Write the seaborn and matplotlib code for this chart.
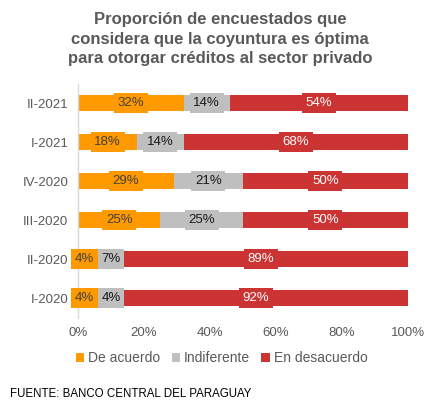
import numpy as np
import pandas as pd
import matplotlib
matplotlib.use("Agg")
import matplotlib.pyplot as plt
from matplotlib.patches import Patch
import seaborn as sns

# Data =================================================================================================================

periods = ["II-2021", "I-2021", "IV-2020", "III-2020", "II-2020", "I-2020"]
de_acuerdo = [32, 18, 29, 25, 4, 4]
indiferente = [14, 14, 21, 25, 7, 4]
en_desacuerdo = [54, 68, 50, 50, 89, 92]

series_names = ["De acuerdo", "Indiferente", "En desacuerdo"]
colors = ["#FF9900", "#BFBFBF", "#CC3333"]
label_colors = ["#404040", "#1a1a1a", "white"]

# Plot =================================================================================================================

sns.set_style("white")
plt.rcParams["font.family"] = ["Liberation Sans", "DejaVu Sans"]

df = pd.DataFrame({"periodo": periods, "De acuerdo": de_acuerdo,
                   "Indiferente": indiferente, "En desacuerdo": en_desacuerdo})
df["cum1"] = df["De acuerdo"]
df["cum2"] = df["De acuerdo"] + df["Indiferente"]
df["cum3"] = df["cum2"] + df["En desacuerdo"]

fig = plt.figure(figsize=(4.35, 4.12), dpi=100)
ax = fig.add_axes([0.179, 0.229, 0.759, 0.568])

#### stacked bars drawn from the longest to the shortest
for col, color in zip(["cum3", "cum2", "cum1"], colors[::-1]):
    sns.barplot(data=df, x=col, y="periodo", order=periods, color=color,
                width=0.41, orient="h", ax=ax, saturation=1, edgecolor="none")

#### settings
ax.set_xlim(0, 100)
ax.set_ylim(5.5, -0.5)
ax.set_xticks([0, 20, 40, 60, 80, 100])
ax.set_xticklabels(["%d%%" % t for t in [0, 20, 40, 60, 80, 100]])
ax.set_xlabel("")
ax.set_ylabel("")
ax.tick_params(axis="both", which="both", length=0, labelsize=9.5, labelcolor="#595959")
ax.tick_params(axis="x", pad=7)
ax.tick_params(axis="y", pad=7)
for sp in ["top", "right", "bottom"]:
    ax.spines[sp].set_visible(False)
ax.spines["left"].set_color("#D9D9D9")
ax.spines["left"].set_linewidth(1)

#### data labels with coloured boxes, pushed right when they collide
fig.canvas.draw()
renderer = fig.canvas.get_renderer()
for i, row in df.iterrows():
    starts = [0, row["cum1"], row["cum2"]]
    vals = [row["De acuerdo"], row["Indiferente"], row["En desacuerdo"]]
    prev_right = None
    for s, v, c, tc in zip(starts, vals, colors, label_colors):
        t = ax.text(s + v / 2, i, "%d%%" % v, ha="center", va="center", fontsize=9.5, color=tc,
                    bbox=dict(boxstyle="square,pad=0.28", facecolor=c, edgecolor="none"))
        t.draw(renderer)
        bb = t.get_bbox_patch().get_window_extent(renderer)
        if prev_right is not None and bb.x0 < prev_right:
            shift = prev_right - bb.x0
            x_disp = ax.transData.transform((s + v / 2, i))[0] + shift
            t.set_x(ax.transData.inverted().transform((x_disp, 0))[0])
            t.draw(renderer)
            bb = t.get_bbox_patch().get_window_extent(renderer)
        prev_right = bb.x1

handles = [Patch(facecolor=c, edgecolor="none") for c in colors]
fig.legend(handles, series_names, loc="center", bbox_to_anchor=(0.51, 0.131), ncol=3, frameon=False,
           fontsize=10, handlelength=0.6, handleheight=0.6, handletextpad=0.3, columnspacing=0.8,
           labelcolor="#595959")

fig.text(0.506, 0.97, "Proporción de encuestados que\nconsidera que la coyuntura es óptima\npara otorgar créditos al sector privado",
         ha="center", va="top", fontsize=12, fontweight="bold", color="#595959", linespacing=1.35)

fig.text(0.023, 0.044, "FUENTE: BANCO CENTRAL DEL PARAGUAY", ha="left", va="center", fontsize=8.3, color="black")

fig.savefig("out.png", dpi=100)
